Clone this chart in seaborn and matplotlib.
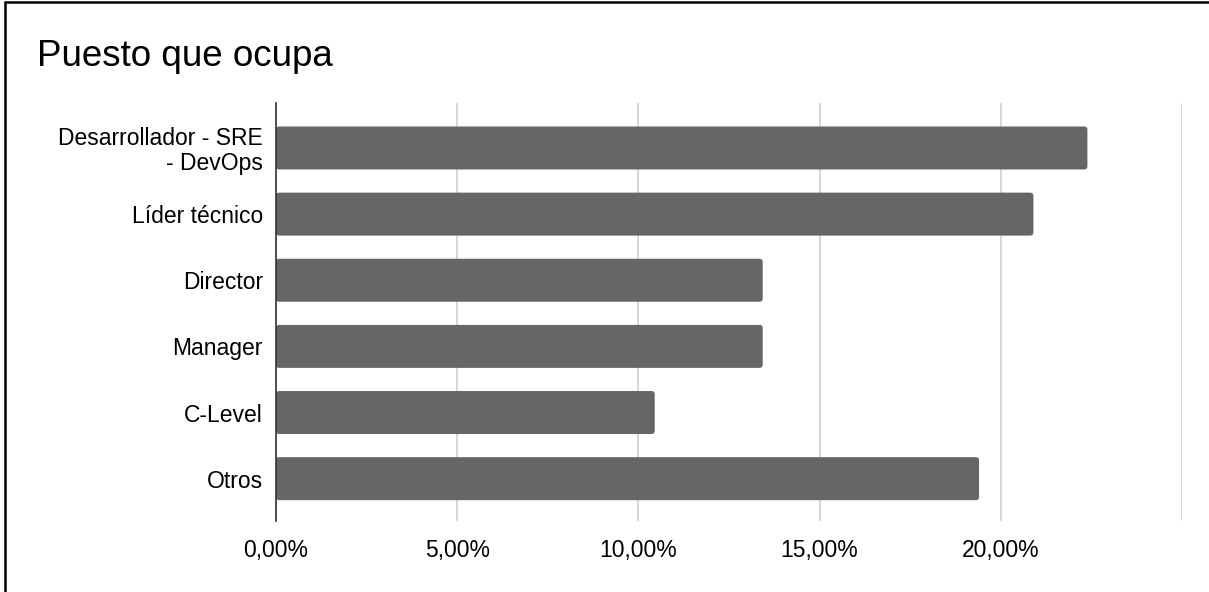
import matplotlib
matplotlib.use("Agg")
import matplotlib.pyplot as plt
from matplotlib.patches import FancyBboxPatch
from matplotlib.lines import Line2D
from matplotlib.ticker import FuncFormatter
import seaborn as sns
import pandas as pd

# Survey answers: share of respondents per role (%)
roles = ["Desarrollador - SRE\n- DevOps", "Líder técnico", "Director",
         "Manager", "C-Level", "Otros"]
shares = [22.39, 20.90, 13.43, 13.43, 10.45, 19.40]
x_ticks = [0, 5, 10, 15, 20, 25]
title = "Puesto que ocupa"

sns.set_theme(style="white")
plt.rcParams["font.family"] = ["Liberation Sans", "DejaVu Sans"]

df = pd.DataFrame({"rol": roles, "porcentaje": shares})

fig = plt.figure(figsize=(12.09, 5.92), dpi=100)
ax = fig.add_axes([276 / 1209, 1 - 521 / 592, (1182 - 276) / 1209, (521 - 103) / 592])

sns.barplot(data=df, x="porcentaje", y="rol", orient="h", color="#666666",
            saturation=1, width=0.65, ax=ax, zorder=3)

# Swap the plain rectangles for ones with slightly rounded corners
for p in list(ax.patches):
    x0, y0 = p.get_x(), p.get_y()
    w, h = p.get_width(), p.get_height()
    p.remove()
    ax.add_patch(FancyBboxPatch((x0, y0), w, h,
                                boxstyle="round,pad=0,rounding_size=0.09",
                                mutation_aspect=0.55, facecolor="#666666",
                                edgecolor="none", zorder=3))

ax.set_xlim(0, 25)
ax.set_ylim(5.64, -0.68)
ax.set_xticks(x_ticks)
ax.xaxis.set_major_formatter(FuncFormatter(
    lambda v, _: "" if v >= 25 else f"{v:.2f}".replace(".", ",") + "%"))
ax.grid(axis="x", color="#cccccc", linewidth=1.1, zorder=0)
ax.grid(axis="y", visible=False)
for side in ("top", "right", "bottom"):
    ax.spines[side].set_visible(False)
ax.spines["left"].set_color("#333333")
ax.spines["left"].set_linewidth(1.2)
ax.spines["left"].set_zorder(4)
ax.set_xlabel("")
ax.set_ylabel("")
ax.tick_params(axis="y", length=0, pad=9.5, labelsize=16.5, labelcolor="#000000")
ax.tick_params(axis="x", length=0, pad=13, labelsize=16.5, labelcolor="#000000")
for lbl in ax.get_yticklabels():
    lbl.set_horizontalalignment("right")
    lbl.set_multialignment("right")
    lbl.set_linespacing(1.1)

fig.text(37 / 1209, 1 - 66 / 592, title, fontsize=26.5, color="#000000",
         ha="left", va="baseline")

# Frame lines along the left and top edges
fig.add_artist(Line2D([5 / 1209, 5 / 1209], [0, 1 - 1.5 / 592], transform=fig.transFigure,
                      color="black", linewidth=1.8))
fig.add_artist(Line2D([5 / 1209, 1], [1 - 1.5 / 592, 1 - 1.5 / 592], transform=fig.transFigure,
                      color="black", linewidth=1.8))

fig.savefig("out.png", dpi=100, facecolor="white")
